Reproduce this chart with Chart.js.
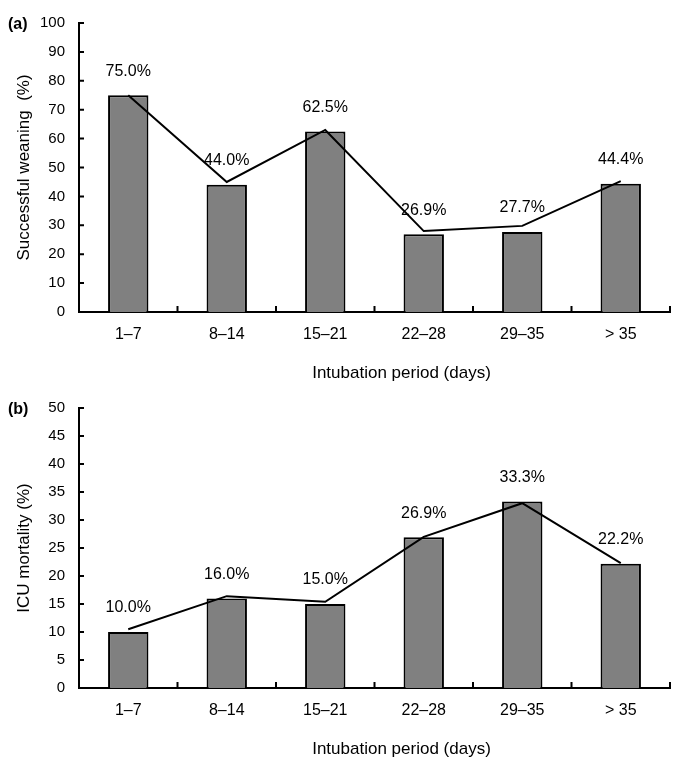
<!DOCTYPE html>
<html>
<head>
<meta charset="utf-8">
<script src="https://cdn.jsdelivr.net/npm/chart.js@4/dist/chart.umd.min.js"></script>
<style>
    html, body { margin: 0; padding: 0; background: #fff; }
    .panel { position: absolute; left: 0; width: 685px; }
    #panelA { top: 0; height: 385px; }
    #panelB { top: 385px; height: 379px; }
</style>
</head>
<body>
<div class="panel" id="panelA"><canvas id="weaningChart"></canvas></div>
<div class="panel" id="panelB"><canvas id="mortalityChart"></canvas></div>
<script>
// intubation period categories
const periods = ['1\u20137', '8\u201314', '15\u201321', '22\u201328', '29\u201335', '> 35'];

// (a) successful weaning, bars + hand drawn trend line
const weaningPct = [75.0, 44.0, 62.5, 26.9, 27.7, 44.4];
const weaningTrend = [75, 45, 63, 28, 29.8, 45.3];
const weaningTicks = [0, 10, 20, 30, 40, 50, 60, 70, 80, 90, 100];

// (b) ICU mortality
const mortalityPct = [10.0, 16.0, 15.0, 26.9, 33.3, 22.2];
const mortalityTrend = [10.5, 16.4, 15.4, 27, 33, 22.3];
const mortalityTicks = [0, 5, 10, 15, 20, 25, 30, 35, 40, 45, 50];

var panels = (function(){
    "use strict";

    Chart.defaults.font.family = '"Liberation Sans", Arial, sans-serif';
    Chart.defaults.color = '#000';

    // draws the small inward ticks, the % labels, the panel letter and the x title
    const extras = {
        id: 'extras',
        afterDraw: (chart, args, opts) => {
            const ctx = chart.ctx;
            const area = chart.chartArea;
            const xs = chart.scales.x;
            const ys = chart.scales.y;

            ctx.save();
            ctx.strokeStyle = '#000';
            ctx.lineWidth = 2;
            ctx.beginPath();
            ys.ticks.forEach((t, i) => {
                const py = ys.getPixelForTick(i);
                if (i === 0) return;
                ctx.moveTo(area.left, py);
                ctx.lineTo(area.left + 5, py);
            });
            for (let i = 0; i < periods.length; i++) {
                const px = xs.getPixelForValue(i + 0.5);
                ctx.moveTo(px, area.bottom);
                ctx.lineTo(px, area.bottom - 6);
            }
            ctx.stroke();

            // value labels above the bars
            ctx.fillStyle = '#000';
            ctx.font = '16px "Liberation Sans", Arial, sans-serif';
            ctx.textAlign = 'center';
            ctx.textBaseline = 'middle';
            const meta = chart.getDatasetMeta(0);
            meta.data.forEach((bar, i) => {
                const v = chart.data.datasets[0].data[i];
                ctx.fillText(v.toFixed(1) + '%', bar.x, bar.y - 24);
            });

            // panel letter
            ctx.font = 'bold 16px "Liberation Sans", Arial, sans-serif';
            ctx.textAlign = 'left';
            ctx.fillText(opts.letter, 8, area.top + 2);

            // x axis title sits a bit right of the plot centre in the original
            ctx.font = '17px "Liberation Sans", Arial, sans-serif';
            ctx.textAlign = 'center';
            ctx.fillText('Intubation period (days)', (area.left + area.right) / 2 + 27, area.bottom + 61);
            ctx.restore();
        }
    };

    const makeChart = (canvasId, barData, lineData, tickVals, yTitle, letter, pad, xHeight)=>{
        const ctx = document.getElementById(canvasId).getContext('2d');
        return new Chart(ctx, {
            data: {
                labels: periods,
                datasets: [{
                    type: 'bar',
                    data: barData,
                    backgroundColor: '#808080',
                    borderColor: '#000',
                    borderWidth: 2,
                    barPercentage: 0.41,
                    categoryPercentage: 1,
                    order: 2
                }, {
                    type: 'line',
                    data: lineData,
                    borderColor: '#000',
                    borderWidth: 2,
                    pointRadius: 0,
                    tension: 0,
                    fill: false,
                    order: 1
                }]
            },
            options: {
                responsive: true,
                maintainAspectRatio: false,
                animation: false,
                layout: { padding: { top: pad, right: 15, left: 0, bottom: 0 } },
                plugins: {
                    legend: { display: false },
                    tooltip: { enabled: false },
                    extras: { letter: letter }
                },
                scales: {
                    x: {
                        offset: true,
                        grid: { display: false, drawTicks: false },
                        border: { color: '#000', width: 2 },
                        ticks: { font: { size: 16 }, padding: 13, maxRotation: 0 },
                        afterFit: (scale) => { scale.height = xHeight; }
                    },
                    y: {
                        min: tickVals[0],
                        max: tickVals[tickVals.length - 1],
                        afterBuildTicks: (scale) => { scale.ticks = tickVals.map(v => ({ value: v })); },
                        grid: { display: false, drawTicks: false },
                        border: { color: '#000', width: 2 },
                        ticks: { font: { size: 15 }, padding: 14 },
                        title: { display: true, text: yTitle, font: { size: 17 }, padding: { top: 14, bottom: 0 } },
                        afterFit: (scale) => { scale.width = 79; }
                    }
                }
            },
            plugins: [extras]
        });
    };

    const init = ()=>{
        makeChart('weaningChart', weaningPct, weaningTrend, weaningTicks, 'Successful weaning  (%)', '(a)', 23, 73);
        makeChart('mortalityChart', mortalityPct, mortalityTrend, mortalityTicks, 'ICU mortality (%)', '(b)', 14, 76);
    };

    return { init };
})();

panels.init();
</script>
</body>
</html>
